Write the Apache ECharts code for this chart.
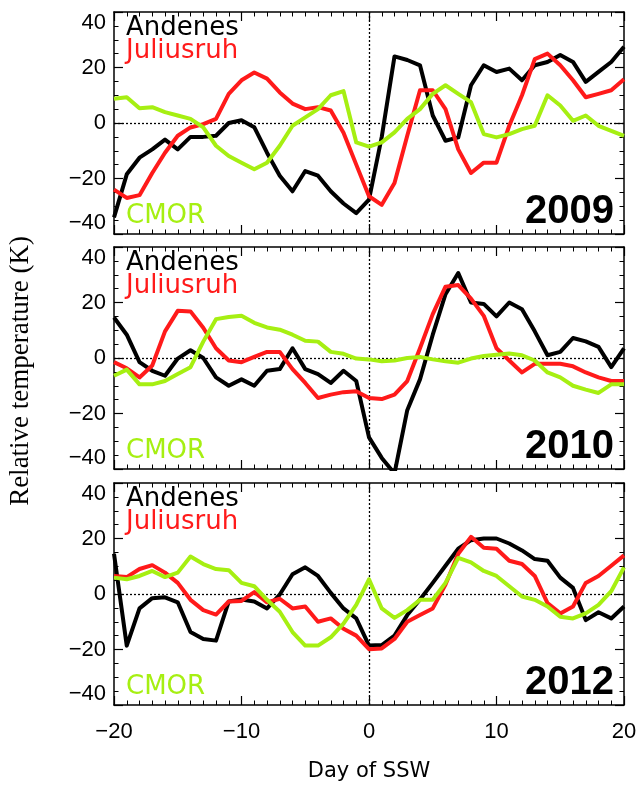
<!DOCTYPE html>
<html><head><meta charset="utf-8">
<script src="https://cdn.jsdelivr.net/npm/echarts@6/dist/echarts.min.js"></script>
<style>html,body{margin:0;padding:0;background:#fff}#c{width:642px;height:785px}</style>
</head><body><div id="c"></div>
<script>
const days = [-20,-19,-18,-17,-16,-15,-14,-13,-12,-11,-10,-9,-8,-7,-6,-5,-4,-3,-2,-1,0,1,2,3,4,5,6,7,8,9,10,11,12,13,14,15,16,17,18,19,20];
const years = ['2009','2010','2012'];
const seriesNames = ['Andenes','Juliusruh','CMOR'];
const xTicks = [-20,-10,0,10,20];
const yTicks = [-40,-20,0,20,40];

const andenes2009 = [-34,-18.5,-12.5,-9.5,-6,-9.5,-5,-5,-4.6,0,1,-1.5,-10.7,-19,-24.6,-17.3,-19,-24.6,-29,-32.5,-27.6,-5,24,22.7,20.8,2.7,-6.4,-5.2,13.6,20.8,18.4,19.6,15.4,20.8,22,24.5,22,14.8,18.4,22,27.5];
const juliusruh2009 = [-24,-27,-26,-18,-10.7,-4.6,-1.6,-0.4,1.5,10.5,15.4,18.2,16,11,7,5,5.7,4.5,-3.5,-15,-26.4,-29.5,-21.6,-4.6,11.8,11.8,5,-9.5,-18,-14.3,-14.3,-1,10,23,25,20.8,15.4,9.3,10.5,11.8,15.8];
const cmor2009 = [8.7,9.3,5.3,5.7,3.9,2.7,1.5,-1.6,-8.2,-11.9,-14.3,-16.7,-14.3,-8.2,-1,2,5,10,11.5,-7,-8.5,-7,-3.4,1.5,5,10.5,13.6,10.5,7.5,-4,-5.2,-4,-2.2,-1,10,6.3,0.8,2.7,-1,-2.8,-4.6];

const andenes2010 = [14.6,8.4,-1.5,-4.6,-6.4,-0.2,2.8,0,-7,-10,-7.7,-10,-4.6,-4,3.5,-4,-5.8,-9,-4.6,-8.3,-28.6,-36,-41.6,-18.8,-7.7,8.4,23,30.6,20,19.5,15,20,17.6,9.6,1,2.2,7.2,6,4,-3.3,3.5];
const juliusruh2010 = [-1.5,-3.7,-7,-2.7,9.6,17,16.8,10.9,3.5,-0.9,-1.5,0.4,2.2,2.2,-4,-9,-14.4,-13.2,-12.3,-12,-14.4,-14.8,-13.2,-8.3,3.5,15.8,25.7,26.3,21.4,15.2,3.5,-0.9,-5.2,-2.1,-2.1,-2.1,-3,-5.2,-7,-8.3,-8.3];
const cmor2010 = [-6.4,-4.2,-9.5,-9.5,-8.3,-5.8,-3.3,5.9,14,14.8,15.2,12.7,11,10.2,8.4,6.2,5.9,2.2,1.5,-0.2,-0.5,-1.2,-0.9,0,0.4,-0.5,-1.2,-1.7,-0.2,0.7,1.2,1.6,1,-0.9,-5.2,-7,-10,-11.4,-12.6,-9.5,-9.5];

const andenes2012 = [14.5,-18.6,-5.2,-1.5,-1.2,-3,-13.7,-16.2,-16.8,-2.7,-2,-2.7,-5.2,-0.2,7.1,9.6,6.5,0.4,-5.2,-8.8,-18.6,-18.4,-15,-7.6,-2,4,10.2,16.3,19.4,20,20,18.2,15.7,12.6,12,5.9,2.2,-9.4,-6.6,-8.8,-4.5];
const juliusruh2012 = [6.5,6.1,9,10.4,7.7,4,-2.1,-5.8,-7.4,-2.7,-2.5,0.7,-3,-1.7,-5.2,-4.5,-10,-8.8,-12.5,-15,-19.9,-19.6,-16.2,-10,-7.6,-5.2,3.4,14.5,20.6,16.7,16.3,12,10.8,6.5,-3.3,-7,-4.5,4,6.5,10.2,13.9];
const cmor2012 = [5.9,5.3,6.5,8.3,6.1,7.7,13.5,10.8,9,8.6,4,2.8,-2.1,-6.4,-13.7,-18.6,-18.6,-15.6,-10.7,-3.9,5.3,-5.2,-8.6,-5.8,-2.1,-2.1,4,13,11.4,8.3,6.5,2.8,-0.9,-2.1,-4.5,-8.2,-8.8,-7,-3.9,1,9.6];

const panelData = [
  [andenes2009, juliusruh2009, cmor2009],
  [andenes2010, juliusruh2010, cmor2010],
  [andenes2012, juliusruh2012, cmor2012]
];
const colors = ['#000000', '#ff1a1a', '#a6ef12'];

const LEFT = 114, RIGHT = 18, H = 222;
const tops = [12, 247, 483];
const fmt = v => (v < 0 ? '\u2212' + Math.abs(v) : String(v));

const grid = [], xAxis = [], yAxis = [], series = [], graphic = [];
tops.forEach((top, p) => {
  grid.push({left: LEFT, right: RIGHT, top: top, height: H});
  const axLine = {show: true, onZero: false, lineStyle: {color: '#000', width: 1.5}};
  const tick = {show: true, inside: true, length: 9, lineStyle: {color: '#000', width: 1.2}};
  const minor = (n) => ({show: true, splitNumber: n, length: 4.5, lineStyle: {color: '#000', width: 1}});
  const bottomX = {
    type: 'value', gridIndex: p, min: xTicks[0], max: xTicks[xTicks.length-1], interval: 10,
    position: 'bottom', axisLine: axLine, axisTick: tick, minorTick: minor(10),
    splitLine: {show: false},
    axisLabel: {show: p === 2, margin: 16, color: '#000', fontSize: 22, fontFamily: 'Liberation Sans', formatter: fmt}
  };
  if (p === 2) {
    bottomX.name = 'Day of SSW'; bottomX.nameLocation = 'middle'; bottomX.nameGap = 56;
    bottomX.nameTextStyle = {color: '#000', fontSize: 21, fontFamily: 'DejaVu Sans'};
  }
  xAxis.push(bottomX);
  xAxis.push({
    type: 'value', gridIndex: p, min: -20, max: 20, interval: 10, position: 'top',
    axisLine: axLine, axisTick: tick, minorTick: minor(10), splitLine: {show: false}, axisLabel: {show: false}
  });
  yAxis.push({
    type: 'value', gridIndex: p, min: yTicks[0], max: yTicks[yTicks.length-1], interval: 20, position: 'left',
    axisLine: axLine, axisTick: tick, minorTick: minor(4), splitLine: {show: false},
    axisLabel: {margin: 8, color: '#000', fontSize: 22, fontFamily: 'Liberation Sans', formatter: fmt,
      verticalAlignMaxLabel: 'top', verticalAlignMinLabel: 'bottom'}
  });
  yAxis.push({
    type: 'value', gridIndex: p, min: -40, max: 40, interval: 20, position: 'right',
    axisLine: axLine, axisTick: tick, minorTick: minor(4), splitLine: {show: false}, axisLabel: {show: false}
  });
  panelData[p].forEach((arr, s) => {
    const ser = {
      type: 'line', name: seriesNames[s], xAxisIndex: p*2, yAxisIndex: p*2,
      data: days.map((d, i) => [d, arr[i]]),
      showSymbol: false, symbol: 'none', smooth: false, clip: true,
      lineStyle: {color: colors[s], width: 4, join: 'round'}, z: 3 + s
    };
    if (s === 0) {
      ser.markLine = {
        silent: true, symbol: 'none', label: {show: false},
        lineStyle: {color: '#000', type: [2, 2], width: 1.3}, z: 1,
        data: [{xAxis: 0}, {yAxis: 0}]
      };
    }
    series.push(ser);
  });
  const lab = (text, y, color) => ({type: 'text', left: 126, top: top + y,
    style: {text, fill: color, font: '26px "DejaVu Sans"'}});
  graphic.push(lab(seriesNames[0], 3, colors[0]));
  graphic.push(lab(seriesNames[1], 26, colors[1]));
  graphic.push(lab(seriesNames[2], 191, colors[2]));
  graphic.push({type: 'text', right: 28, top: top + 180,
    style: {text: years[p], fill: '#000', font: 'bold 40px "Liberation Sans"'}});
});
graphic.push({type: 'text', left: 7, top: 236, rotation: Math.PI/2,
  style: {text: 'Relative temperature (K)', fill: '#000', font: '27px "Liberation Serif"'}});

const chart = echarts.init(document.getElementById('c'), null, {renderer: 'canvas'});
chart.setOption({
  backgroundColor: '#fff', animation: false,
  grid, xAxis, yAxis, series, graphic
});
</script>
</body></html>
